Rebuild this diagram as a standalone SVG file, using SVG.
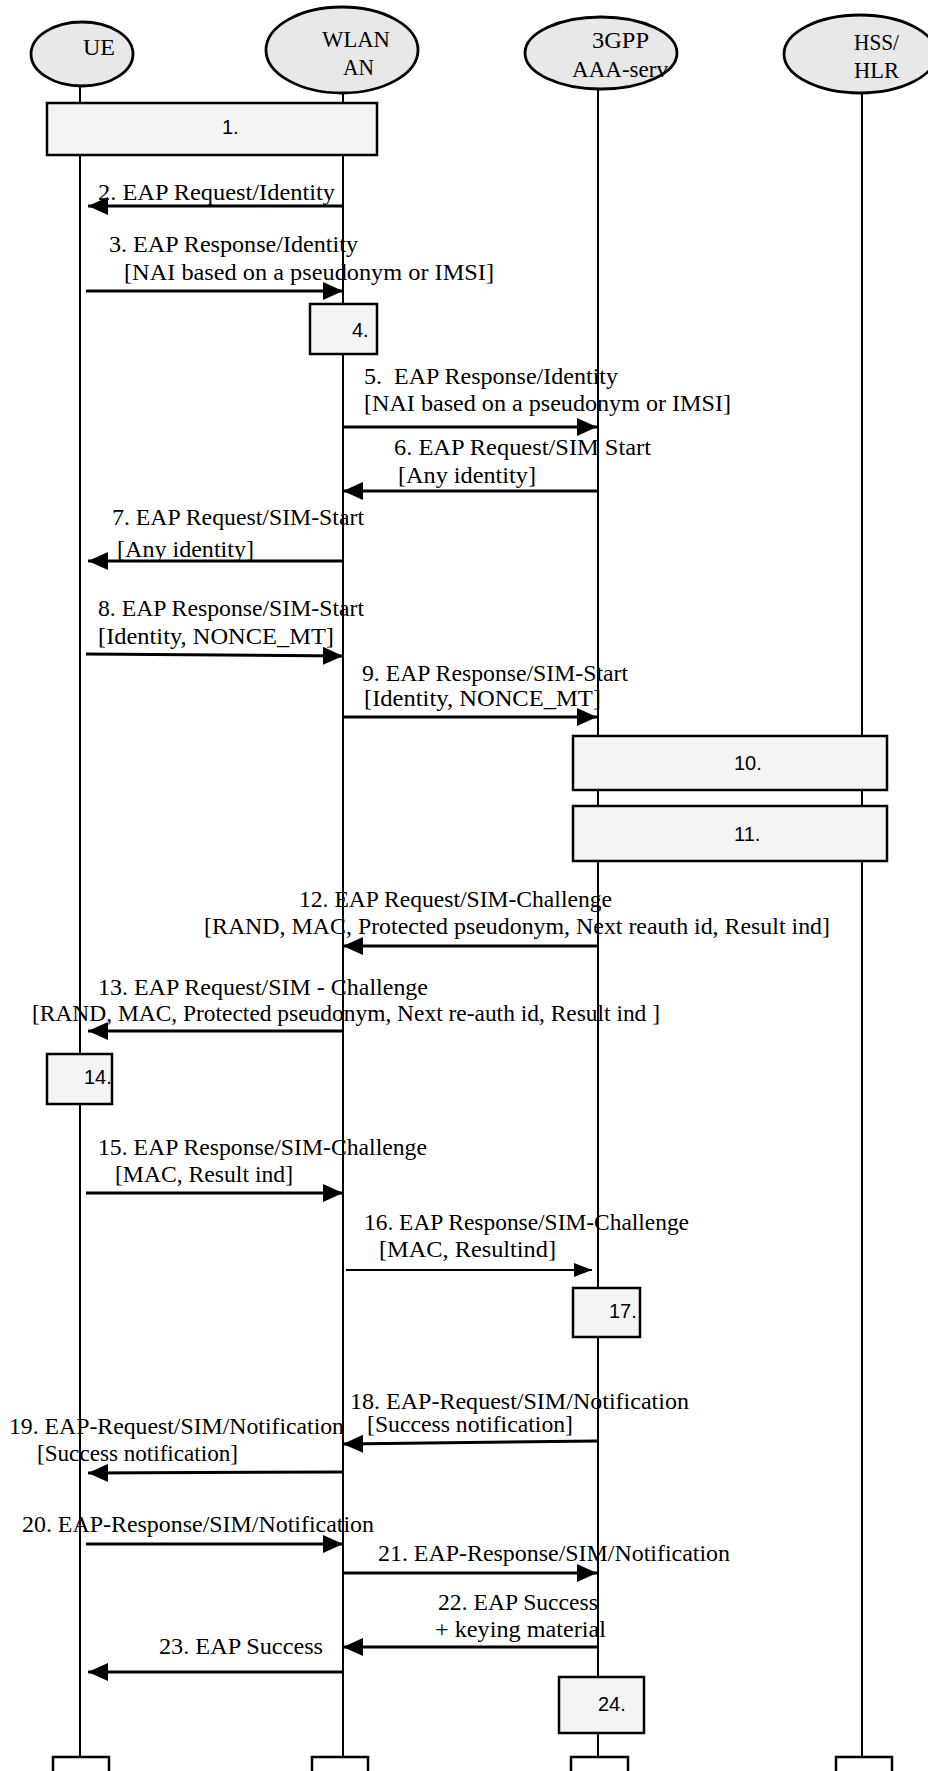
<svg xmlns="http://www.w3.org/2000/svg" width="928" height="1771" viewBox="0 0 928 1771">
<style>
.life{stroke:#000;stroke-width:2;fill:none}
.ell{fill:#e8e8e8;stroke:#000;stroke-width:2.8}
.box{fill:#f4f4f4;stroke:#000;stroke-width:2.5}
.end{fill:#fff;stroke:#000;stroke-width:2.5}
.msg{stroke:#000;stroke-width:3;fill:none;marker-end:url(#ah)}
.msgs{stroke:#000;stroke-width:2.2;fill:none;marker-end:url(#ahs)}
.t{font-family:"Liberation Serif","Times New Roman",serif;font-size:23px;fill:#000}
.b{font-family:"Liberation Sans",Arial,sans-serif;font-size:20px;fill:#000}
</style>
<defs>
<marker id="ah" markerUnits="userSpaceOnUse" markerWidth="20" markerHeight="18" refX="20" refY="9" orient="auto">
<path d="M0,0 L20,9 L0,18 z" fill="#000"/>
</marker>
<marker id="ahs" markerUnits="userSpaceOnUse" markerWidth="18" markerHeight="14" refX="18" refY="7" orient="auto">
<path d="M0,0 L18,7 L0,14 z" fill="#000"/>
</marker>
</defs>
<rect width="928" height="1771" fill="#fff"/>
<g id="lifelines">
<line class="life" x1="80" y1="85" x2="80" y2="1771"/>
<line class="life" x1="343" y1="92" x2="343" y2="1771"/>
<line class="life" x1="598" y1="89" x2="598" y2="1771"/>
<line class="life" x1="862" y1="92" x2="862" y2="1771"/>
</g>
<g id="ue"><ellipse class="ell" cx="82" cy="54" rx="51" ry="32"/><text class="t" x="83" y="55" textLength="32" lengthAdjust="spacingAndGlyphs">UE</text></g>
<g id="wlan"><ellipse class="ell" cx="342" cy="50" rx="76" ry="43"/><text class="t" x="322" y="47" textLength="68" lengthAdjust="spacingAndGlyphs">WLAN</text><text class="t" x="343" y="75" textLength="31" lengthAdjust="spacingAndGlyphs">AN</text></g>
<g id="aaa"><ellipse class="ell" cx="601" cy="53" rx="76" ry="36"/><text class="t" x="592" y="48" textLength="57" lengthAdjust="spacingAndGlyphs">3GPP</text><text class="t" x="572" y="77" textLength="96" lengthAdjust="spacingAndGlyphs">AAA-serv</text></g>
<g id="hss"><ellipse class="ell" cx="860" cy="54" rx="76" ry="39"/><text class="t" x="854" y="50" textLength="45" lengthAdjust="spacingAndGlyphs">HSS/</text><text class="t" x="854" y="78" textLength="45" lengthAdjust="spacingAndGlyphs">HLR</text></g>
<g id="step1"><rect class="box" x="47" y="103" width="330" height="52"/><text class="b" x="222" y="134">1.</text></g>
<g id="step4"><rect class="box" x="310" y="304" width="67" height="50"/><text class="b" x="352" y="337">4.</text></g>
<g id="step10"><rect class="box" x="573" y="736" width="314" height="54"/><text class="b" x="734" y="770">10.</text></g>
<g id="step11"><rect class="box" x="573" y="806" width="314" height="55"/><text class="b" x="734" y="841">11.</text></g>
<g id="step14"><rect class="box" x="47" y="1054" width="65" height="50"/><text class="b" x="84" y="1084">14.</text></g>
<g id="step17"><rect class="box" x="573" y="1288" width="67" height="49"/><text class="b" x="609" y="1318">17.</text></g>
<g id="step24"><rect class="box" x="559" y="1677" width="85" height="56"/><text class="b" x="598" y="1711">24.</text></g>
<g id="ends">
<rect class="end" x="53" y="1757" width="56" height="30"/>
<rect class="end" x="312" y="1757" width="56" height="30"/>
<rect class="end" x="571" y="1757" width="57" height="30"/>
<rect class="end" x="836" y="1757" width="56" height="30"/>
</g>
<g id="connectors">
<line class="msg" x1="343" y1="206" x2="88" y2="206"/>
<line class="msg" x1="86" y1="291" x2="343" y2="291"/>
<line class="msg" x1="343" y1="427" x2="597" y2="427"/>
<line class="msg" x1="597" y1="491" x2="343" y2="491"/>
<line class="msg" x1="343" y1="561" x2="88" y2="561"/>
<line class="msg" x1="86" y1="654" x2="343" y2="656"/>
<line class="msg" x1="343" y1="717" x2="597" y2="717"/>
<line class="msg" x1="597" y1="946" x2="343" y2="946"/>
<line class="msg" x1="343" y1="1031" x2="88" y2="1031"/>
<line class="msg" x1="86" y1="1193" x2="343" y2="1193"/>
<line class="msgs" x1="346" y1="1270" x2="592" y2="1270"/>
<line class="msg" x1="597" y1="1441" x2="343" y2="1444"/>
<line class="msg" x1="343" y1="1472" x2="88" y2="1473"/>
<line class="msg" x1="86" y1="1544" x2="343" y2="1544"/>
<line class="msg" x1="343" y1="1573" x2="597" y2="1573"/>
<line class="msg" x1="597" y1="1647" x2="343" y2="1647"/>
<line class="msg" x1="343" y1="1672" x2="88" y2="1672"/>
</g>
<g id="labels">
<text class="t" x="98" y="200" textLength="237" lengthAdjust="spacingAndGlyphs">2. EAP Request/Identity</text>
<text class="t" x="109" y="252" textLength="249" lengthAdjust="spacingAndGlyphs">3. EAP Response/Identity</text>
<text class="t" x="124" y="280" textLength="370" lengthAdjust="spacingAndGlyphs">[NAI based on a pseudonym or IMSI]</text>
<text class="t" x="364" y="384" textLength="254" lengthAdjust="spacingAndGlyphs" style="white-space:pre">5.  EAP Response/Identity</text>
<text class="t" x="364" y="411" textLength="367" lengthAdjust="spacingAndGlyphs">[NAI based on a pseudonym or IMSI]</text>
<text class="t" x="394" y="455" textLength="257" lengthAdjust="spacingAndGlyphs">6. EAP Request/SIM Start</text>
<text class="t" x="398" y="483" textLength="138" lengthAdjust="spacingAndGlyphs">[Any identity]</text>
<text class="t" x="112" y="525" textLength="252" lengthAdjust="spacingAndGlyphs">7. EAP Request/SIM-Start</text>
<text class="t" x="117" y="557" textLength="137" lengthAdjust="spacingAndGlyphs">[Any identity]</text>
<text class="t" x="98" y="616" textLength="266" lengthAdjust="spacingAndGlyphs">8. EAP Response/SIM-Start</text>
<text class="t" x="98" y="644" textLength="236" lengthAdjust="spacingAndGlyphs">[Identity, NONCE_MT]</text>
<text class="t" x="362" y="681" textLength="266" lengthAdjust="spacingAndGlyphs">9. EAP Response/SIM-Start</text>
<text class="t" x="364" y="706" textLength="237" lengthAdjust="spacingAndGlyphs">[Identity, NONCE_MT]</text>
<text class="t" x="299" y="907" textLength="313" lengthAdjust="spacingAndGlyphs">12. EAP Request/SIM-Challenge</text>
<text class="t" x="204" y="934" textLength="626" lengthAdjust="spacingAndGlyphs">[RAND, MAC, Protected pseudonym, Next reauth id, Result ind]</text>
<text class="t" x="98" y="995" textLength="330" lengthAdjust="spacingAndGlyphs">13. EAP Request/SIM - Challenge</text>
<text class="t" x="32" y="1021" textLength="628" lengthAdjust="spacingAndGlyphs">[RAND, MAC, Protected pseudonym, Next re-auth id, Result ind ]</text>
<text class="t" x="98" y="1155" textLength="329" lengthAdjust="spacingAndGlyphs">15. EAP Response/SIM-Challenge</text>
<text class="t" x="115" y="1182" textLength="178" lengthAdjust="spacingAndGlyphs">[MAC, Result ind]</text>
<text class="t" x="364" y="1230" textLength="325" lengthAdjust="spacingAndGlyphs">16. EAP Response/SIM-Challenge</text>
<text class="t" x="379" y="1257" textLength="177" lengthAdjust="spacingAndGlyphs">[MAC, Resultind]</text>
<text class="t" x="350" y="1409" textLength="339" lengthAdjust="spacingAndGlyphs">18. EAP-Request/SIM/Notification</text>
<text class="t" x="367" y="1432" textLength="206" lengthAdjust="spacingAndGlyphs">[Success notification]</text>
<text class="t" x="9" y="1434" textLength="335" lengthAdjust="spacingAndGlyphs">19. EAP-Request/SIM/Notification</text>
<text class="t" x="37" y="1461" textLength="201" lengthAdjust="spacingAndGlyphs">[Success notification]</text>
<text class="t" x="22" y="1532" textLength="352" lengthAdjust="spacingAndGlyphs">20. EAP-Response/SIM/Notification</text>
<text class="t" x="378" y="1561" textLength="352" lengthAdjust="spacingAndGlyphs">21. EAP-Response/SIM/Notification</text>
<text class="t" x="438" y="1610" textLength="160" lengthAdjust="spacingAndGlyphs">22. EAP Success</text>
<text class="t" x="435" y="1637" textLength="171" lengthAdjust="spacingAndGlyphs">+ keying material</text>
<text class="t" x="159" y="1654" textLength="164" lengthAdjust="spacingAndGlyphs">23. EAP Success</text>
</g>
</svg>
